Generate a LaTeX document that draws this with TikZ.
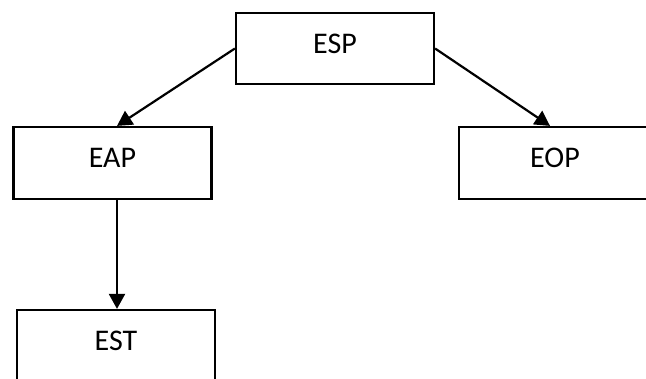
\documentclass[tikz,border=0pt]{standalone}
\usepackage{fontspec}
\setmainfont{Carlito}
\usetikzlibrary{arrows.meta,calc}
\begin{document}
\begin{tikzpicture}[x=1pt,y=-1pt,
  box/.style={draw=black, line width=2.2pt, fill=white, minimum width=198pt,
    minimum height=72pt, inner sep=0pt, text height=19pt, text depth=10pt,
    font=\fontsize{30}{36}\selectfont},
  link/.style={line width=2.2pt, -{Triangle[length=15pt,width=16pt]}}]
  \useasboundingbox (0,0) rectangle (646,378);
  \clip (0,0) rectangle (646,378);
  \fill[white] (0,0) rectangle (646,378);
  % the four boxes
  \node[box, minimum height=71pt] (esp) at (335,48.5) {ESP};
  \node[box] (eap) at (112.5,163) {EAP};
  \node[box, minimum width=192pt] (eop) at (555,163) {EOP};
  \node[box] (est) at (116,346) {EST};
  % connectors
  \draw[link] (esp.west) -- ($(eap.north)+(4.5,0)$);
  \draw[link] (esp.east) -- ($(eop.north)+(-5,0)$);
  \draw[link] ($(eap.south)+(4.5,0)$) -- ($(est.north)+(1,0)$);
\end{tikzpicture}
\end{document}
